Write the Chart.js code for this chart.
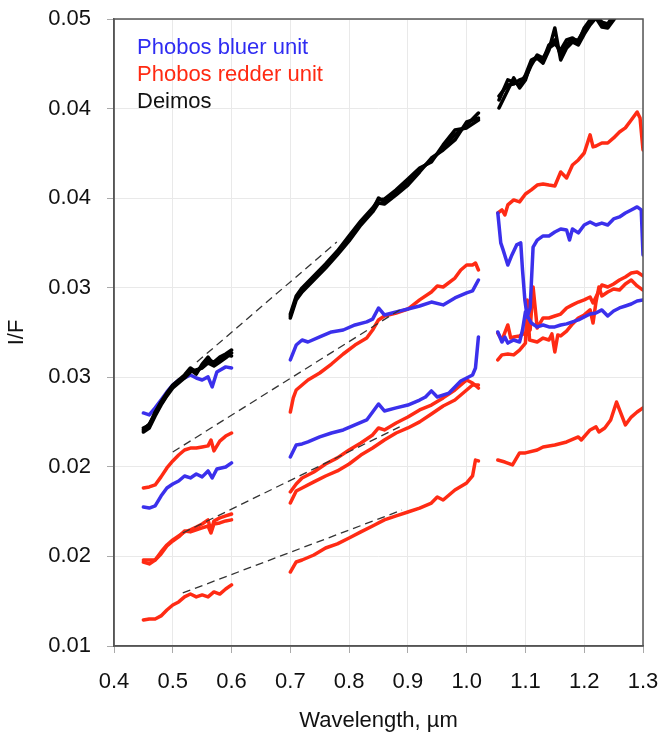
<!DOCTYPE html>
<html>
<head>
<meta charset="utf-8">
<title>Phobos and Deimos spectra</title>
<script src="https://cdn.jsdelivr.net/npm/chart.js@4/dist/chart.umd.min.js"></script>
<style>
  html, body { margin: 0; padding: 0; background: #fff; }
  canvas { display: block; }
</style>
</head>
<body>
<canvas id="chart" width="660" height="738"></canvas>
<script>
// [wavelength um, I/F], null = gap between detector ranges
const deimosA = [
  [0.45,0.02467],[0.46,0.02484],[0.47,0.02556],[0.48,0.02612],[0.49,0.02662],[0.50,0.02707],[0.51,0.02735],[0.52,0.02763],
  [0.53,0.02802],[0.54,0.02780],[0.55,0.02813],[0.56,0.02847],[0.57,0.02835],[0.58,0.02863],[0.59,0.02880],[0.60,0.02902],
  null,
  [0.70,0.03092],[0.71,0.03193],[0.72,0.03237],[0.74,0.03304],[0.76,0.03371],[0.78,0.03444],[0.80,0.03528],[0.82,0.03611],
  [0.84,0.03684],[0.85,0.03751],[0.86,0.03729],[0.88,0.03784],[0.90,0.03840],[0.92,0.03907],[0.94,0.03963],[0.96,0.04030],
  [0.98,0.04103],[1.00,0.04158],[1.02,0.04225],
  null,
  [1.055,0.04298],[1.07,0.04410],[1.08,0.04398],[1.09,0.04382],[1.10,0.04437],[1.11,0.04521],[1.12,0.04538],[1.13,0.04521],
  [1.14,0.04605],[1.15,0.04633],[1.16,0.04549],[1.17,0.04611],[1.18,0.04633],[1.19,0.04633],[1.20,0.04689],[1.21,0.04733],
  [1.22,0.04778],[1.23,0.04717],[1.24,0.04711],[1.25,0.04756],[1.26,0.04800],[1.28,0.04856],[1.30,0.04884]
]
const deimosB = [
  [0.45,0.02445],[0.46,0.02467],[0.47,0.02534],[0.48,0.02595],[0.49,0.02646],[0.50,0.02690],[0.51,0.02718],[0.52,0.02746],
  [0.53,0.02780],[0.54,0.02791],[0.55,0.02802],[0.56,0.02830],[0.57,0.02813],[0.58,0.02835],[0.59,0.02858],[0.60,0.02886],
  null,
  [0.70,0.03081],[0.71,0.03182],[0.72,0.03226],[0.74,0.03293],[0.76,0.03360],[0.78,0.03433],[0.80,0.03511],[0.82,0.03600],
  [0.84,0.03673],[0.85,0.03723],[0.86,0.03717],[0.88,0.03768],[0.90,0.03823],[0.92,0.03896],[0.94,0.03974],[0.96,0.04019],
  [0.98,0.04075],[1.00,0.04175],[1.02,0.04197],
  null,
  [1.055,0.04253],[1.07,0.04354],[1.08,0.04421],[1.09,0.04365],[1.10,0.04410],[1.11,0.04510],[1.12,0.04532],[1.13,0.04504],
  [1.14,0.04577],[1.15,0.04700],[1.16,0.04521],[1.17,0.04588],[1.18,0.04622],[1.19,0.04605],[1.20,0.04666],[1.21,0.04717],
  [1.22,0.04756],[1.23,0.04705],[1.24,0.04700],[1.25,0.04745],[1.26,0.04789],[1.28,0.04845],[1.30,0.04878]
]
const deimosC = [
  [0.45,0.02456],[0.46,0.02489],[0.47,0.02545],[0.48,0.02601],[0.49,0.02651],[0.50,0.02701],[0.51,0.02724],[0.52,0.02752],
  [0.53,0.02791],[0.54,0.02768],[0.55,0.02824],[0.56,0.02863],[0.57,0.02819],[0.58,0.02847],[0.59,0.02875],[0.60,0.02869],
  null,
  [0.70,0.03103],[0.71,0.03204],[0.72,0.03249],[0.74,0.03316],[0.76,0.03383],[0.78,0.03455],[0.80,0.03539],[0.82,0.03623],
  [0.84,0.03695],[0.85,0.03740],[0.86,0.03745],[0.88,0.03796],[0.90,0.03857],[0.92,0.03918],[0.94,0.03952],[0.96,0.04047],
  [0.98,0.04130],[1.00,0.04142],[1.02,0.04186],
  null,
  [1.055,0.04320],[1.07,0.04382],[1.08,0.04387],[1.09,0.04410],[1.10,0.04421],[1.11,0.04493],[1.12,0.04549],[1.13,0.04532],
  [1.14,0.04588],[1.15,0.04611],[1.16,0.04577],[1.17,0.04633],[1.18,0.04644],[1.19,0.04622],[1.20,0.04700],[1.21,0.04745],
  [1.22,0.04767],[1.23,0.04733],[1.24,0.04722],[1.25,0.04772],[1.26,0.04811],[1.28,0.04867],[1.30,0.04890]
]

const blueA = [
  [0.45,0.02551],[0.46,0.02540],[0.47,0.02579],[0.48,0.02623],[0.49,0.02668],[0.50,0.02707],[0.51,0.02735],[0.52,0.02746],
  [0.53,0.02763],[0.54,0.02746],[0.55,0.02735],[0.56,0.02752],[0.567,0.02696],[0.575,0.02780],[0.59,0.02808],[0.60,0.02802],
  null,
  [0.70,0.02847],[0.71,0.02930],[0.72,0.02958],[0.73,0.02947],[0.75,0.02975],[0.77,0.03003],[0.79,0.03014],[0.81,0.03042],
  [0.83,0.03059],[0.84,0.03075],[0.85,0.03137],[0.86,0.03098],[0.88,0.03115],[0.90,0.03131],[0.92,0.03148],[0.94,0.03170],
  [0.96,0.03154],[0.98,0.03193],[1.00,0.03221],[1.01,0.03232],[1.02,0.03293],
  null,
  [1.053,0.03667],[1.058,0.03500],[1.062,0.03461],[1.07,0.03377],[1.077,0.03433],[1.085,0.03489],[1.092,0.03500],[1.095,0.03349],
  [1.099,0.03182],[1.103,0.03087],[1.108,0.03137],[1.113,0.03477],[1.12,0.03516],[1.13,0.03539],[1.14,0.03539],[1.15,0.03561],
  [1.16,0.03578],[1.17,0.03572],[1.175,0.03516],[1.18,0.03578],[1.19,0.03556],[1.20,0.03600],[1.21,0.03617],[1.22,0.03600],
  [1.23,0.03611],[1.24,0.03600],[1.25,0.03634],[1.26,0.03645],[1.27,0.03667],[1.28,0.03684],[1.29,0.03701],[1.297,0.03684],
  [1.30,0.03433]
]
const blueB = [
  [0.45,0.02026],[0.46,0.02020],[0.47,0.02032],[0.48,0.02087],[0.49,0.02132],[0.50,0.02154],[0.51,0.02171],[0.52,0.02199],
  [0.53,0.02188],[0.54,0.02210],[0.55,0.02194],[0.56,0.02227],[0.567,0.02188],[0.575,0.02238],[0.59,0.02249],[0.60,0.02272],
  null,
  [0.70,0.02305],[0.71,0.02372],[0.72,0.02378],[0.73,0.02389],[0.75,0.02417],[0.77,0.02439],[0.79,0.02456],[0.81,0.02484],
  [0.83,0.02512],[0.84,0.02556],[0.85,0.02601],[0.86,0.02562],[0.88,0.02579],[0.90,0.02595],[0.92,0.02623],[0.93,0.02640],
  [0.94,0.02674],[0.95,0.02640],[0.97,0.02662],[0.99,0.02729],[1.01,0.02763],[1.015,0.02802],[1.02,0.02975],
  null,
  [1.053,0.03003],[1.06,0.02947],[1.065,0.02975],[1.07,0.02941],[1.08,0.02958],[1.09,0.02947],[1.095,0.03014],[1.10,0.03115],
  [1.105,0.03081],[1.11,0.03053],[1.12,0.03031],[1.13,0.03042],[1.14,0.03031],[1.15,0.03031],[1.16,0.03042],[1.17,0.03048],
  [1.18,0.03059],[1.19,0.03070],[1.20,0.03087],[1.21,0.03103],[1.22,0.03109],[1.23,0.03126],[1.24,0.03092],[1.25,0.03120],
  [1.26,0.03137],[1.27,0.03148],[1.28,0.03159],[1.29,0.03176],[1.30,0.03182]
]

const redA = [
  [0.45,0.02132],[0.46,0.02138],[0.47,0.02149],[0.48,0.02194],[0.49,0.02244],[0.50,0.02283],[0.51,0.02316],[0.52,0.02344],
  [0.53,0.02355],[0.54,0.02355],[0.55,0.02361],[0.56,0.02367],[0.565,0.02400],[0.57,0.02339],[0.58,0.02394],[0.59,0.02422],
  [0.60,0.02439],
  null,
  [0.70,0.02556],[0.705,0.02635],[0.71,0.02679],[0.72,0.02707],[0.73,0.02735],[0.75,0.02774],[0.77,0.02824],[0.79,0.02880],
  [0.81,0.02930],[0.83,0.02969],[0.84,0.03014],[0.85,0.03070],[0.86,0.03092],[0.88,0.03109],[0.90,0.03131],[0.92,0.03182],
  [0.94,0.03226],[0.95,0.03260],[0.96,0.03254],[0.98,0.03304],[0.99,0.03349],[1.00,0.03377],[1.01,0.03377],[1.015,0.03388],
  [1.02,0.03349],
  null,
  [1.053,0.03667],[1.06,0.03684],[1.065,0.03656],[1.07,0.03712],[1.08,0.03740],[1.09,0.03729],[1.10,0.03773],[1.11,0.03796],
  [1.12,0.03823],[1.13,0.03829],[1.14,0.03823],[1.15,0.03818],[1.16,0.03896],[1.17,0.03863],[1.18,0.03935],[1.19,0.03963],
  [1.20,0.04002],[1.21,0.04103],[1.215,0.04036],[1.22,0.04041],[1.23,0.04058],[1.24,0.04058],[1.25,0.04086],[1.26,0.04119],
  [1.27,0.04142],[1.28,0.04186],[1.29,0.04231],[1.295,0.04197],[1.30,0.04019]
]
const redB = [
  [0.45,0.01730],[0.46,0.01730],[0.47,0.01730],[0.48,0.01775],[0.49,0.01814],[0.50,0.01842],[0.51,0.01864],[0.52,0.01887],
  [0.53,0.01898],[0.54,0.01914],[0.55,0.01931],[0.56,0.01954],[0.565,0.01892],[0.57,0.01948],[0.58,0.01965],[0.59,0.01976],
  [0.60,0.01987],
  null,
  [0.70,0.02110],[0.71,0.02154],[0.72,0.02188],[0.74,0.02221],[0.76,0.02266],[0.78,0.02300],[0.80,0.02344],[0.82,0.02383],
  [0.84,0.02428],[0.85,0.02467],[0.86,0.02456],[0.88,0.02495],[0.90,0.02528],[0.92,0.02568],[0.94,0.02595],[0.96,0.02635],
  [0.98,0.02679],[1.00,0.02735],[1.01,0.02718],[1.02,0.02690],
  null,
  [1.053,0.02997],[1.06,0.02958],[1.07,0.03042],[1.075,0.02969],[1.08,0.02975],[1.09,0.02981],[1.10,0.02997],[1.108,0.03014],
  [1.113,0.03254],[1.12,0.03025],[1.13,0.03081],[1.14,0.03081],[1.15,0.03092],[1.16,0.03103],[1.17,0.03137],[1.18,0.03154],
  [1.19,0.03170],[1.20,0.03182],[1.21,0.03198],[1.215,0.03165],[1.22,0.03198],[1.23,0.03265],[1.24,0.03254],[1.25,0.03271],
  [1.26,0.03293],[1.27,0.03310],[1.28,0.03332],[1.29,0.03338],[1.30,0.03316]
]
const redC = [
  [0.45,0.01719],[0.46,0.01708],[0.47,0.01730],[0.48,0.01764],[0.49,0.01808],[0.50,0.01836],[0.51,0.01859],[0.52,0.01892],
  [0.53,0.01887],[0.54,0.01898],[0.55,0.01909],[0.56,0.01920],[0.565,0.01881],[0.57,0.01931],[0.58,0.01937],[0.59,0.01948],
  [0.60,0.01954],
  null,
  [0.70,0.02048],[0.71,0.02115],[0.72,0.02132],[0.74,0.02166],[0.76,0.02199],[0.78,0.02227],[0.80,0.02266],[0.82,0.02316],
  [0.84,0.02355],[0.86,0.02400],[0.88,0.02439],[0.90,0.02467],[0.92,0.02501],[0.94,0.02545],[0.96,0.02590],[0.98,0.02623],
  [1.00,0.02679],[1.01,0.02707],[1.02,0.02707],
  null,
  [1.053,0.02847],[1.06,0.02875],[1.07,0.02880],[1.08,0.02875],[1.09,0.02902],[1.10,0.02941],[1.103,0.03182],[1.107,0.02958],
  [1.12,0.02947],[1.13,0.02969],[1.14,0.02958],[1.145,0.02992],[1.15,0.02891],[1.155,0.02986],[1.16,0.02981],[1.17,0.03008],
  [1.18,0.03048],[1.19,0.03081],[1.20,0.03098],[1.21,0.03126],[1.215,0.03053],[1.22,0.03170],[1.225,0.03254],[1.23,0.03204],
  [1.24,0.03226],[1.25,0.03243],[1.26,0.03237],[1.27,0.03271],[1.28,0.03293],[1.29,0.03260],[1.30,0.03237]
]
const redD = [
  [0.45,0.01395],[0.46,0.01401],[0.47,0.01401],[0.48,0.01418],[0.49,0.01451],[0.50,0.01479],[0.51,0.01496],[0.52,0.01524],
  [0.53,0.01540],[0.54,0.01524],[0.55,0.01535],[0.56,0.01524],[0.57,0.01552],[0.58,0.01540],[0.59,0.01568],[0.60,0.01591],
  null,
  [0.70,0.01663],[0.71,0.01719],[0.72,0.01730],[0.74,0.01758],[0.76,0.01797],[0.78,0.01820],[0.80,0.01853],[0.82,0.01887],
  [0.84,0.01920],[0.86,0.01954],[0.88,0.01976],[0.90,0.01998],[0.92,0.02020],[0.94,0.02048],[0.95,0.02082],[0.96,0.02065],
  [0.98,0.02121],[1.00,0.02160],[1.01,0.02199],[1.015,0.02288],[1.02,0.02283],
  null,
  [1.053,0.02288],[1.065,0.02277],[1.078,0.02261],[1.09,0.02328],[1.10,0.02328],[1.12,0.02344],[1.13,0.02361],[1.15,0.02372],
  [1.17,0.02389],[1.19,0.02417],[1.195,0.02400],[1.21,0.02456],[1.22,0.02473],[1.225,0.02445],[1.235,0.02467],[1.245,0.02512],
  [1.255,0.02612],[1.27,0.02484],[1.28,0.02528],[1.29,0.02556],[1.30,0.02579]
]

// dashed guide lines across the gap
const dash1 = [[0.541,0.02835],[0.779,0.03505]]
const dash2 = [[0.500,0.02333],[0.886,0.03126]]
const dash3 = [[0.517,0.01881],[0.886,0.02473]]
const dash4 = [[0.517,0.01546],[0.890,0.02009]]

const xTickValues = [0.4, 0.5, 0.6, 0.7, 0.8, 0.9, 1.0, 1.1, 1.2, 1.3]
const xTickLabels = ['0.4', '0.5', '0.6', '0.7', '0.8', '0.9', '1.0', '1.1', '1.2', '1.3']
const yTickValues = [0.0125, 0.0175, 0.0225, 0.0275, 0.0325, 0.0375, 0.0425, 0.0475]
const yTickLabels = ['0.01', '0.02', '0.02', '0.03', '0.03', '0.04', '0.04', '0.05']

const legendItems = [
  { text: 'Phobos bluer unit', color: '#2f2cf2' },
  { text: 'Phobos redder unit', color: '#ff2a12' },
  { text: 'Deimos', color: '#111111' }
]

const BLUE = '#3b30ec'
const RED = '#ff2b14'
const BLACK = '#000000'
const FONT = 'Arial, "Liberation Sans", Helvetica, sans-serif'

function toPoints(arr) {
  let last = 0
  return arr.map(p => {
    if (!p) return { x: last, y: null }
    last = p[0]
    return { x: p[0], y: p[1] }
  })
}

function spectrum(arr, color) {
  return {
    data: toPoints(arr),
    borderColor: color,
    borderWidth: 3.5,
    borderJoinStyle: 'round',
    borderCapStyle: 'round',
    pointRadius: 0,
    tension: 0,
    spanGaps: false,
    clip: 0
  }
}

function dashed(arr) {
  return {
    data: toPoints(arr),
    borderColor: '#333333',
    borderWidth: 1.3,
    borderDash: [8, 5],
    pointRadius: 0,
    order: -1,
    clip: 0
  }
}

// keep the plot box where the reference has it, ignoring label overflow
function fixBox(size) {
  return s => {
    if (s.isHorizontal()) s.height = size
    else s.width = size
    s.paddingTop = 0
    s.paddingBottom = 0
    s.paddingLeft = 0
    s.paddingRight = 0
  }
}

const frameAndLegend = {
  id: 'frameAndLegend',
  afterDatasetsDraw(chart) {
    const { ctx, chartArea: a } = chart
    ctx.save()
    ctx.strokeStyle = '#555555'
    ctx.lineWidth = 1.5
    ctx.strokeRect(a.left, a.top, a.right - a.left, a.bottom - a.top)
    ctx.font = '22px ' + FONT
    ctx.textBaseline = 'alphabetic'
    ctx.textAlign = 'left'
    legendItems.forEach((item, i) => {
      ctx.fillStyle = item.color
      ctx.fillText(item.text, a.left + 23, a.top + 35 + i * 27)
    })
    ctx.restore()
  }
}

Chart.defaults.font.family = FONT
Chart.defaults.color = '#111111'

const ctx = document.getElementById('chart').getContext('2d')
const chart = new Chart(ctx, {
  type: 'line',
  data: {
    datasets: [
      dashed(dash1), dashed(dash2), dashed(dash3), dashed(dash4),
      spectrum(deimosA, BLACK), spectrum(deimosB, BLACK), spectrum(deimosC, BLACK),
      spectrum(blueA, BLUE), spectrum(blueB, BLUE),
      spectrum(redA, RED), spectrum(redB, RED), spectrum(redC, RED), spectrum(redD, RED)
    ]
  },
  options: {
    responsive: false,
    animation: false,
    layout: { padding: { top: 19, right: 17, bottom: 0, left: 0 } },
    plugins: { legend: { display: false }, tooltip: { enabled: false } },
    scales: {
      x: {
        type: 'linear',
        min: 0.4,
        max: 1.3,
        afterBuildTicks: s => { s.ticks = xTickValues.map(v => ({ value: v })) },
        afterFit: fixBox(92),
        ticks: {
          callback: (v, i) => xTickLabels[i],
          font: { size: 22 },
          padding: 16,
          maxRotation: 0,
          autoSkip: false
        },
        grid: { color: '#e9e9e9', lineWidth: 1, tickLength: 7, tickColor: '#aaaaaa' },
        border: { color: '#555555', width: 1.5 },
        title: { display: true, text: 'Wavelength, µm', font: { size: 22 }, padding: { top: 4, bottom: 4 } }
      },
      y: {
        type: 'linear',
        min: 0.0125,
        max: 0.0475,
        afterBuildTicks: s => { s.ticks = yTickValues.map(v => ({ value: v })) },
        afterFit: fixBox(114),
        ticks: {
          callback: (v, i) => yTickLabels[i],
          font: { size: 22 },
          padding: 16,
          autoSkip: false
        },
        grid: { color: '#e9e9e9', lineWidth: 1, tickLength: 7, tickColor: '#aaaaaa' },
        border: { color: '#555555', width: 1.5 },
        title: { display: true, text: 'I/F', font: { size: 22 }, padding: { top: 4, bottom: 4 } }
      }
    }
  },
  plugins: [frameAndLegend]
})
</script>
</body>
</html>
